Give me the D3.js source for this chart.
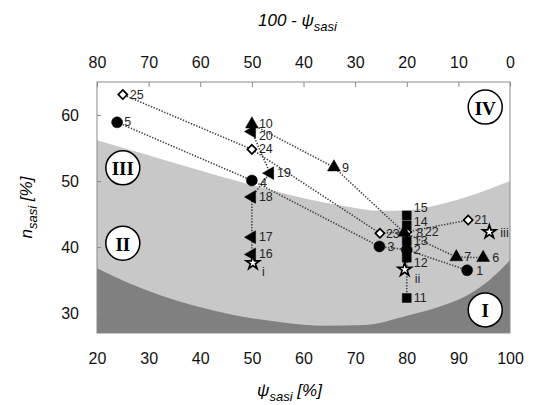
<!DOCTYPE html>
<html>
<head>
<meta charset="utf-8">
<script src="https://cdn.jsdelivr.net/npm/d3@7"></script>
<style>
  body { margin: 0; background: #fff; }
  svg { display: block; font-family: "Liberation Sans", Arial, sans-serif; }
</style>
</head>
<body>
<svg id="chart" width="537" height="405"></svg>
<script>
// ---- data ---------------------------------------------------------------
// Trials 1-5 (circles), 6-10 (triangles up), 11-15 (squares),
// 16-20 (triangles left), 21-25 (open diamonds), i-iii (open stars)
const circleIds = ["1", "2", "3", "4", "5"];
const circleX   = [91.7, 80.0, 74.7, 50.0, 23.9];
const circleY   = [36.5, 39.6, 40.1, 50.1, 58.9];

const triUpIds = ["6", "7", "8", "9", "10"];
const triUpX   = [94.8, 89.6, 79.5, 65.9, 50.0];
const triUpY   = [38.4, 38.5, 42.2, 52.1, 58.6];

const squareIds = ["11", "12", "13", "14", "15"];
const squareX   = [80.0, 80.0, 80.0, 80.0, 80.0];
const squareY   = [32.3, 38.4, 40.9, 43.3, 44.8];

const triLeftIds = ["16", "17", "18", "19", "20"];
const triLeftX   = [50.0, 50.0, 50.0, 53.5, 50.0];
const triLeftY   = [38.9, 41.5, 47.6, 51.2, 57.5];

const diamondIds = ["21", "22", "23", "24", "25"];
const diamondX   = [91.9, 80.0, 74.8, 50.0, 25.0];
const diamondY   = [44.1, 42.3, 42.1, 54.8, 63.1];

const starIds = ["i", "ii", "iii"];
const starX   = [50.2, 79.6, 96.0];
const starY   = [37.6, 36.6, 42.3];

// Region boundaries (psi_sasi vs n_sasi)
const upperX = [20, 30, 40, 50, 60, 68, 75, 80, 85, 90, 95, 100];
const upperY = [56.2, 53.9, 51.6, 49.4, 47.4, 46.2, 45.5, 45.6, 46.2, 47.2, 48.5, 50.0];
const lowerX = [20, 26, 32, 40, 48, 56, 64, 72, 80, 86, 91, 96, 100];
const lowerY = [36.8, 34.6, 32.8, 30.9, 29.5, 28.6, 28.1, 28.2, 29.6, 30.9, 32.4, 35.0, 38.0];

// Region markers
const romanLabels = ["I", "II", "III", "IV"];
const romanX = [95.2, 25.0, 25.0, 95.2];
const romanY = [30.5, 40.6, 52.0, 61.2];

// Axis ticks
const bottomTicks = [20, 30, 40, 50, 60, 70, 80, 90, 100];
const topTicks    = [80, 70, 60, 50, 40, 30, 20, 10, 0];
const leftTicks   = [30, 40, 50, 60];

// ---- layout -------------------------------------------------------------
const W = 537, H = 405;
const margin = { top: 82, right: 27, bottom: 72, left: 97 };
const x = d3.scaleLinear().domain([20, 100]).range([margin.left, W - margin.right]);
const xTop = d3.scaleLinear().domain([80, 0]).range([margin.left, W - margin.right]);
const y = d3.scaleLinear().domain([27, 65]).range([H - margin.bottom, margin.top]);

const svg = d3.select("#chart");

svg.append("defs").append("clipPath").attr("id", "plotClip")
  .append("rect")
  .attr("x", margin.left).attr("y", margin.top)
  .attr("width", x.range()[1] - x.range()[0])
  .attr("height", y.range()[0] - y.range()[1]);

const plot = svg.append("g").attr("clip-path", "url(#plotClip)");

// shaded regions
const light = d3.area()
  .x((d, i) => x(upperX[i]))
  .y0(y(27)).y1((d, i) => y(upperY[i]))
  .curve(d3.curveMonotoneX);
plot.append("path").datum(upperX).attr("d", light).attr("fill", "#c8c8c8");

const dark = d3.area()
  .x((d, i) => x(lowerX[i]))
  .y0(y(27)).y1((d, i) => y(lowerY[i]))
  .curve(d3.curveMonotoneX);
plot.append("path").datum(lowerX).attr("d", dark).attr("fill", "#808080");

// series, listed in drawing order
const groups = [
  { ids: diamondIds, xs: diamondX, ys: diamondY, shape: d3.symbolSquare,   size: 42, rot: 45,  open: true,  line: true },
  { ids: circleIds,  xs: circleX,  ys: circleY,  shape: d3.symbolCircle,   size: 95, rot: 0,   open: false, line: true },
  { ids: triUpIds,   xs: triUpX,   ys: triUpY,   shape: d3.symbolTriangle, size: 72, rot: 0,   open: false, line: true },
  { ids: triLeftIds, xs: triLeftX, ys: triLeftY, shape: d3.symbolTriangle, size: 72, rot: -90, open: false, line: true },
  { ids: squareIds,  xs: squareX,  ys: squareY,  shape: d3.symbolSquare,   size: 80, rot: 0,   open: false, line: true },
  { ids: starIds,    xs: starX,    ys: starY,    shape: d3.symbolStar,     size: 55, rot: 0,   open: true,  line: false }
];

const lineGen = d3.line().x(d => x(d[0])).y(d => y(d[1]));
groups.filter(g => g.line).forEach(g => {
  const pts = g.xs.map((v, i) => [v, g.ys[i]]);
  plot.append("path").attr("d", lineGen(pts))
    .attr("fill", "none").attr("stroke", "#444")
    .attr("stroke-width", 1.6).attr("stroke-dasharray", "1.4 1.5");
});

// label placement tweaks (dx, dy in px)
const labelShift = {
  "8": [12, 0], "22": [18, 0], "15": [7, -7], "14": [7, -3], "20": [7, 4], "12": [7, 5],
  "4": [8, 3], "9": [8, 1], "i": [9, 9], "ii": [10, 9], "iii": [11, 1],
  "23": [6, 1], "3": [8, 1], "1": [9, 1], "7": [8, 0], "6": [9, 0], "21": [6, 0]
};

const markG = svg.append("g");
groups.forEach(g => {
  g.ids.forEach((id, i) => {
    const px = x(g.xs[i]), py = y(g.ys[i]);
    markG.append("path")
      .attr("d", d3.symbol().type(g.shape).size(g.size)())
      .attr("transform", `translate(${px},${py}) rotate(${g.rot})`)
      .attr("fill", g.open ? "#fff" : "#000")
      .attr("stroke", "#000")
      .attr("stroke-width", g.open ? 1.7 : 0.5);
  });
});

const labelG = svg.append("g").attr("font-size", 12.5).attr("fill", "#262626");
groups.forEach(g => {
  g.ids.forEach((id, i) => {
    const s = labelShift[id] || [7, 0];
    labelG.append("text")
      .attr("x", x(g.xs[i]) + s[0])
      .attr("y", y(g.ys[i]) + s[1])
      .attr("dominant-baseline", "central")
      .text(id);
  });
});

// region badges
romanLabels.forEach((r, i) => {
  const gR = svg.append("g").attr("transform", `translate(${x(romanX[i])},${y(romanY[i])})`);
  gR.append("circle").attr("r", 17).attr("fill", "#fff").attr("stroke", "#000").attr("stroke-width", 1.5);
  gR.append("text").text(r)
    .attr("text-anchor", "middle").attr("dominant-baseline", "central")
    .attr("font-family", "'Liberation Serif', 'Times New Roman', serif")
    .attr("font-weight", "bold").attr("font-size", 19).attr("dy", 1);
});

// frame
svg.append("rect")
  .attr("x", margin.left).attr("y", margin.top)
  .attr("width", x.range()[1] - x.range()[0])
  .attr("height", y.range()[0] - y.range()[1])
  .attr("fill", "none").attr("stroke", "#8a8a8a").attr("stroke-width", 1);

// axes
const styleAxis = sel => {
  sel.select(".domain").remove();
  sel.selectAll(".tick line").attr("stroke", "#8a8a8a");
  sel.selectAll(".tick text").attr("font-size", 16).attr("fill", "#111")
    .attr("font-family", "'Liberation Sans', Arial, sans-serif");
};

svg.append("g").attr("transform", `translate(0,${y.range()[0]})`)
  .call(d3.axisBottom(x).tickValues(bottomTicks).tickSize(0).tickPadding(20))
  .call(styleAxis);

svg.append("g").attr("transform", `translate(0,${margin.top})`)
  .call(d3.axisTop(xTop).tickValues(topTicks).tickSizeInner(-5).tickSizeOuter(0).tickPadding(14))
  .call(styleAxis);

svg.append("g").attr("transform", `translate(${margin.left},0)`)
  .call(d3.axisLeft(y).tickValues(leftTicks).tickSizeInner(-4).tickSizeOuter(0).tickPadding(18))
  .call(styleAxis);

// axis titles
const cx = (x.range()[0] + x.range()[1]) / 2;
const title = svg.append("text").attr("x", cx - 6).attr("y", 26)
  .attr("text-anchor", "middle").attr("font-size", 17).attr("font-style", "italic");
title.append("tspan").text("100 - ψ");
title.append("tspan").attr("dy", 5).attr("font-size", 13).text("sasi");

const xl = svg.append("text").attr("x", cx - 14).attr("y", 396)
  .attr("text-anchor", "middle").attr("font-size", 17).attr("font-style", "italic");
xl.append("tspan").text("ψ");
xl.append("tspan").attr("dy", 5).attr("font-size", 13).text("sasi");
xl.append("tspan").attr("dy", -5).text(" [%]");

const yl = svg.append("text")
  .attr("transform", `translate(32,${(y.range()[0] + y.range()[1]) / 2}) rotate(-90)`)
  .attr("text-anchor", "middle").attr("font-size", 17).attr("font-style", "italic");
yl.append("tspan").text("n");
yl.append("tspan").attr("dy", 5).attr("font-size", 13).text("sasi");
yl.append("tspan").attr("dy", -5).text(" [%]");
</script>
</body>
</html>
